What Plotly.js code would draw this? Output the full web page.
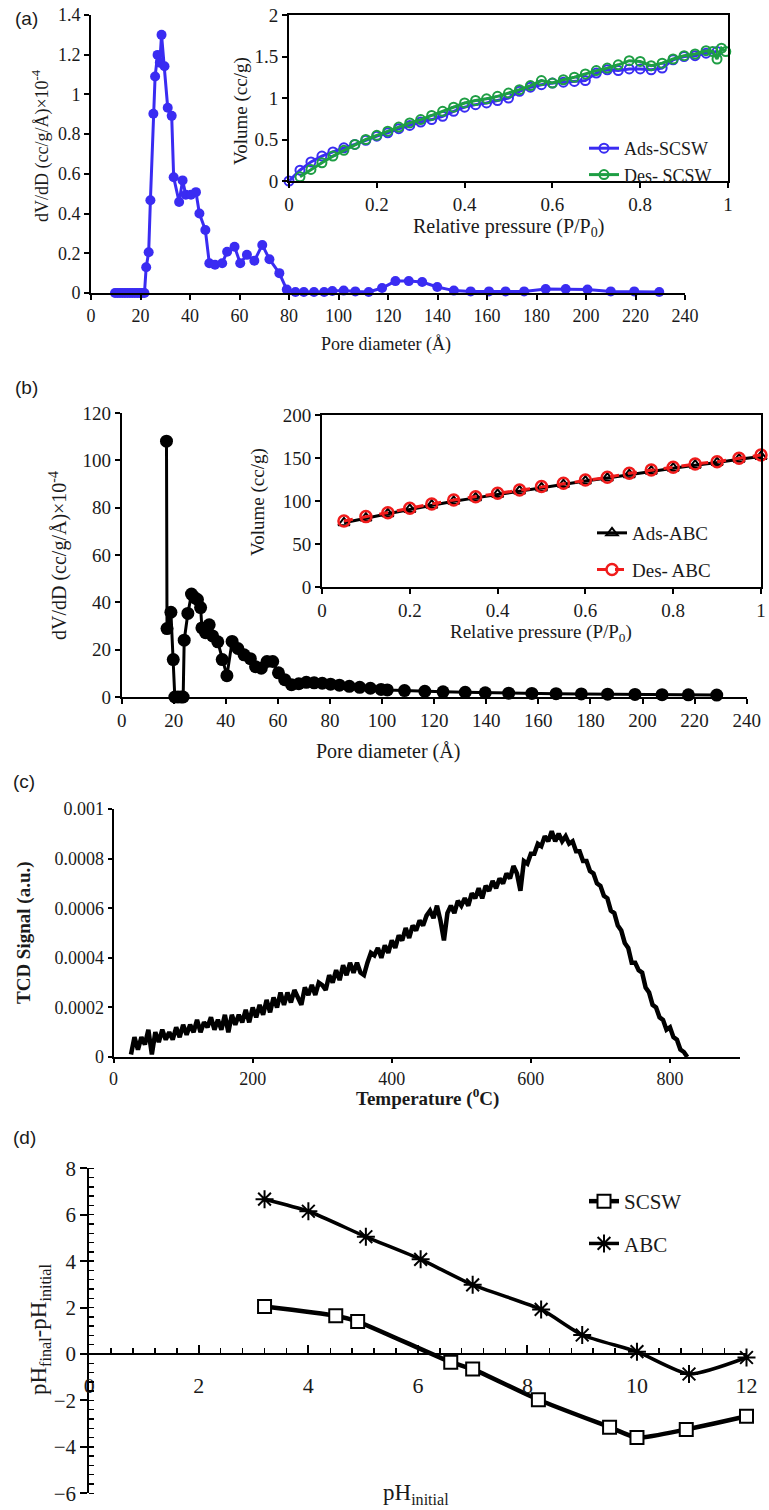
<!DOCTYPE html>
<html><head><meta charset="utf-8">
<script src="https://cdn.plot.ly/plotly-3.0.1.min.js"></script>
<style>html,body{margin:0;padding:0;background:#fff;}#chart{width:769px;height:1510px;}</style>
</head><body><div id="chart"></div>
<script>
// ---------- (a) BJH pore size distribution, SCSW ----------
const aPoreDiameter = [9.7,10.7,11.7,12.7,13.7,14.7,15.7,16.7,17.7,18.7,19.7,20.7,21.6,
  22.3,23.3,24.0,25.2,25.9,26.9,27.8,28.5,29.7,31.0,32.6,33.4,35.6,37.0,38.3,40.4,42.4,43.8,46.2,47.8,50.1,53.0,55.0,58.0,60.3,63.0,66.0,69.2,72.1,76.1,79.1,
  82.6,86.0,90.1,94.2,97.5,102.1,106.8,112.2,117.6,123.0,128.4,133.8,139.9,146.6,153.4,160.8,167.5,175.0,183.7,191.8,200.6,210.0,219.5,229.6];
const aDvdD = [0,0,0,0,0,0,0,0,0,0,0,0,0,
  0.13,0.205,0.467,0.903,1.09,1.199,1.16,1.30,1.142,0.933,0.892,0.583,0.458,0.567,0.495,0.495,0.508,0.40,0.317,0.15,0.142,0.15,0.208,0.233,0.15,0.192,0.162,0.242,0.17,0.10,0.017,
  0.005,0.005,0.005,0.005,0.01,0.012,0.008,0.005,0.025,0.06,0.06,0.055,0.03,0.012,0.008,0.008,0.008,0.008,0.02,0.02,0.018,0.008,0.008,0.005];
// inset (a) isotherm
const aAdsP = [0,0.025,0.05,0.075,0.1,0.125,0.15,0.175,0.2,0.225,0.25,0.275,0.3,0.325,0.35,0.375,0.4,0.425,0.45,0.475,0.5,0.525,0.55,0.575,0.6,0.625,0.65,0.675,0.7,0.725,0.75,0.775,0.8,0.825,0.85,0.875,0.9,0.925,0.95,0.975];
const aAdsV = [0,0.13,0.23,0.30,0.35,0.40,0.44,0.49,0.54,0.58,0.63,0.67,0.71,0.74,0.78,0.84,0.89,0.92,0.94,0.97,1.00,1.08,1.13,1.16,1.18,1.19,1.20,1.21,1.30,1.34,1.33,1.35,1.35,1.34,1.36,1.46,1.50,1.51,1.54,1.56];
const aDesP = [0.025,0.05,0.075,0.1,0.125,0.15,0.175,0.2,0.225,0.25,0.275,0.3,0.325,0.35,0.375,0.4,0.425,0.45,0.475,0.5,0.525,0.55,0.575,0.6,0.625,0.65,0.675,0.7,0.725,0.75,0.775,0.8,0.825,0.85,0.875,0.9,0.925,0.95,0.965,0.975,0.985,0.995];
const aDesV = [0.05,0.14,0.22,0.30,0.37,0.44,0.50,0.55,0.60,0.65,0.70,0.74,0.79,0.84,0.89,0.94,0.97,0.99,1.02,1.06,1.10,1.15,1.21,1.18,1.22,1.25,1.29,1.33,1.36,1.40,1.45,1.44,1.39,1.42,1.47,1.51,1.53,1.57,1.56,1.47,1.60,1.56];

// ---------- (b) BJH pore size distribution, ABC ----------
const bPoreDiameter = [17.2,17.4,18.9,19.8,20.4,21.6,22.8,23.6,24.0,25.4,26.8,28.0,29.1,30.3,30.8,32.2,33.6,34.9,36.9,38.6,40.4,42.4,44.6,47.0,49.4,51.4,53.6,55.8,58.0,60.2,62.6,65.2,68.0,70.9,73.9,77.0,80.2,83.6,87.4,91.4,95.5,99.6,102.0,108.6,116.4,123.4,131.9,139.6,148.6,157.5,166.8,176.5,186.6,197.1,207.5,217.6,228.5];
const bDvdD = [108.1,28.9,35.8,15.8,0,0,0,0,24.0,35.3,43.5,42.0,41.2,37.8,29.2,27.2,30.5,25.8,23.3,15.8,9.0,23.5,20.5,17.8,16.2,12.8,12.2,15.0,15.0,10.2,7.3,5.2,5.6,6.2,6.0,5.8,5.4,5.0,4.5,4.1,3.7,3.2,3.0,2.7,2.4,2.2,2.0,1.8,1.6,1.5,1.4,1.3,1.2,1.1,1.0,0.9,0.8];
// inset (b) isotherm
const bRelP = [0.05,0.1,0.15,0.2,0.25,0.3,0.35,0.4,0.45,0.5,0.55,0.6,0.65,0.7,0.75,0.8,0.85,0.9,0.95,1.0];
const bAdsV = [75,80.5,85.5,90.5,95.5,100,104,108,112,115.5,119.5,123.5,127,131,135,138.5,142,145,149,152];
const bDesV = [77.1,82.2,86.8,91.9,96.9,101.6,105.4,109.3,113.2,117.1,121.0,124.8,127.9,132.6,136.4,139.5,143.4,146.1,150.0,153.9];

// ---------- (c) TPD ----------
const tcdTemperature = [25,30,35,40,45,50,55,60,65,70,75,80,85,90,95,100,105,110,115,120,125,130,135,140,145,150,155,160,165,170,175,180,185,190,195,200,205,210,215,220,225,230,235,240,245,250,255,260,265,270,275,280,285,290,295,300,305,310,315,320,325,330,335,340,345,350,355,360,365,370,375,380,385,390,395,400,405,410,415,420,425,430,435,440,445,450,455,460,465,470,475,480,485,490,495,500,505,510,515,520,525,530,535,540,545,550,555,560,565,570,575,580,585,590,595,600,605,610,615,620,625,630,635,640,645,650,655,660,665,670,675,680,685,690,695,700,705,710,715,720,725,730,735,740,745,750,755,760,765,770,775,780,785,790,795,800,805,810,815,820,825];
const tcdSignal = [0.00001,0.00008,0.00003,0.00008,0.00005,0.00011,0.00001,0.00010,0.00006,0.00011,0.00007,0.00010,0.00007,0.00012,0.00008,0.00013,0.00009,0.00013,0.00010,0.00015,0.00010,0.00014,0.00012,0.00016,0.00011,0.00015,0.00011,0.00017,0.00010,0.00017,0.00013,0.00017,0.00014,0.00019,0.00014,0.00020,0.00016,0.00021,0.00017,0.00023,0.00018,0.00024,0.00020,0.00026,0.00021,0.00026,0.00022,0.00027,0.00024,0.00021,0.00028,0.00025,0.00029,0.00025,0.00030,0.00029,0.00027,0.00033,0.00030,0.00035,0.00031,0.00037,0.00033,0.00038,0.00034,0.00038,0.00034,0.00033,0.00038,0.00042,0.00041,0.00044,0.00040,0.00045,0.00042,0.00047,0.00044,0.00049,0.00047,0.00052,0.00048,0.00053,0.00051,0.00055,0.00053,0.00057,0.00059,0.00056,0.00061,0.00055,0.00047,0.00058,0.00061,0.00058,0.00063,0.00061,0.00064,0.00061,0.00066,0.00064,0.00068,0.00064,0.00069,0.00067,0.00071,0.00068,0.00072,0.00070,0.00074,0.00072,0.00077,0.00074,0.00067,0.00079,0.00078,0.00082,0.00082,0.00086,0.00085,0.00089,0.00087,0.00091,0.00087,0.00090,0.00087,0.00089,0.00086,0.00087,0.00083,0.00083,0.00079,0.00079,0.00075,0.00074,0.00070,0.00069,0.00065,0.00064,0.00059,0.00058,0.00053,0.00051,0.00046,0.00044,0.00038,0.00038,0.00035,0.00034,0.00028,0.00026,0.00021,0.00020,0.00016,0.00015,0.00011,0.00012,0.00008,0.00007,0.00003,0.00002,0];

// ---------- (d) point of zero charge ----------
const dScswPhInitial = [3.2,4.5,4.9,6.6,7.0,8.2,9.5,10.0,10.9,12.0];
const dScswDelta = [2.05,1.65,1.4,-0.35,-0.65,-1.97,-3.15,-3.6,-3.25,-2.68];
const dAbcPhInitial = [3.2,4.0,5.05,6.05,7.0,8.25,9.0,10.0,10.95,12.0];
const dAbcDelta = [6.67,6.15,5.05,4.08,2.98,1.92,0.82,0.1,-0.86,-0.15];

// ---------- styling ----------
const SERIF = '"Liberation Serif", "Times New Roman", serif';
const SANS = '"Liberation Sans", Arial, sans-serif';
const W = 769, H = 1510;
const px = v => v / W, py = v => 1 - v / H;
const BLUE = '#3a2cf2', GREEN = '#1e9e44', RED = '#f01c1c';
const TXT = '#1a1a1a';

function axis(o) {
  return Object.assign({
    showline: true, linecolor: '#000', linewidth: 2, ticks: 'outside', ticklen: 5, tickwidth: 2,
    tickcolor: '#000', showgrid: false, zeroline: false, fixedrange: true,
    tickfont: {family: SERIF, size: 18, color: TXT}
  }, o);
}

const traces = [
  {x: aPoreDiameter, y: aDvdD, xaxis: 'x', yaxis: 'y', mode: 'lines+markers', showlegend: false, cliponaxis: false,
   line: {color: BLUE, width: 3}, marker: {color: BLUE, size: 10}},
  {x: aAdsP, y: aAdsV, xaxis: 'x2', yaxis: 'y2', mode: 'lines+markers', name: 'Ads-SCSW', legend: 'legend', legendgroup: 'a1', cliponaxis: false,
   line: {color: BLUE, width: 3}, marker: {symbol: 'circle-open', color: BLUE, size: 9, line: {width: 2}}},
  {x: aDesP, y: aDesV, xaxis: 'x2', yaxis: 'y2', mode: 'lines+markers', name: 'Des- SCSW', legend: 'legend', legendgroup: 'a2', cliponaxis: false,
   line: {color: GREEN, width: 3}, marker: {symbol: 'circle-open', color: GREEN, size: 9, line: {width: 2}}},
  {x: bPoreDiameter, y: bDvdD, xaxis: 'x3', yaxis: 'y3', mode: 'lines+markers', showlegend: false, cliponaxis: false,
   line: {color: '#000', width: 3}, marker: {color: '#000', size: 13}},
  {x: bRelP, y: bAdsV, xaxis: 'x4', yaxis: 'y4', mode: 'lines+markers', name: 'Ads-ABC', legend: 'legend2', legendgroup: 'b1', cliponaxis: false,
   line: {color: '#000', width: 3}, marker: {symbol: 'triangle-up-open', color: '#000', size: 10, line: {width: 2}}},
  {x: bRelP, y: bDesV, xaxis: 'x4', yaxis: 'y4', mode: 'lines+markers', name: 'Des- ABC', legend: 'legend2', legendgroup: 'b2', cliponaxis: false,
   line: {color: RED, width: 3, dash: 'dash'}, marker: {symbol: 'circle-open', color: RED, size: 11, line: {width: 2.5}}},
  {x: tcdTemperature, y: tcdSignal, xaxis: 'x5', yaxis: 'y5', mode: 'lines', showlegend: false, cliponaxis: false,
   line: {color: '#000', width: 4.5}},
  {x: dScswPhInitial, y: dScswDelta, xaxis: 'x6', yaxis: 'y6', mode: 'lines+markers', name: 'SCSW', legend: 'legend3', legendgroup: 'd1', cliponaxis: false,
   line: {color: '#000', width: 4.5, shape: 'spline', smoothing: 0.6}, marker: {symbol: 'square', color: '#fff', size: 13, line: {color: '#000', width: 2}}},
  {x: dAbcPhInitial, y: dAbcDelta, xaxis: 'x6', yaxis: 'y6', mode: 'lines+markers', name: 'ABC', legend: 'legend3', legendgroup: 'd2', cliponaxis: false,
   line: {color: '#000', width: 3.5, shape: 'spline', smoothing: 0.6}, marker: {symbol: 'asterisk-open', color: '#000', size: 15, line: {color: '#000', width: 2}}}
];

function ann(text, x, y, size, extra) {
  return Object.assign({text: text, xref: 'paper', yref: 'paper', x: px(x), y: py(y), showarrow: false,
    xanchor: 'center', yanchor: 'middle', font: {family: SERIF, size: size, color: TXT}}, extra || {});
}

const layout = {
  width: W, height: H, margin: {l: 0, r: 0, t: 0, b: 0}, paper_bgcolor: '#fff', plot_bgcolor: 'rgba(0,0,0,0)',
  font: {family: SERIF, color: TXT},
  xaxis: axis({domain: [px(91), px(685)], anchor: 'y', range: [0, 240], dtick: 20}),
  yaxis: axis({domain: [py(293), py(15)], anchor: 'x', range: [0, 1.4], dtick: 0.2}),
  xaxis2: axis({domain: [px(289), px(728)], anchor: 'y2', range: [0, 1], dtick: 0.2, mirror: true, tickfont: {family: SERIF, size: 19, color: TXT}}),
  yaxis2: axis({domain: [py(181), py(15)], anchor: 'x2', range: [0, 2], dtick: 0.5, mirror: true, tickfont: {family: SERIF, size: 19, color: TXT}}),
  xaxis3: axis({domain: [px(121.7), px(746.7)], anchor: 'y3', range: [0, 240], dtick: 20, tickfont: {family: SERIF, size: 19, color: TXT}}),
  yaxis3: axis({domain: [py(697), py(413)], anchor: 'x3', range: [0, 120], dtick: 20, tickfont: {family: SERIF, size: 19, color: TXT}}),
  xaxis4: axis({domain: [px(322), px(761)], anchor: 'y4', range: [0, 1], dtick: 0.2, mirror: true, tickfont: {family: SERIF, size: 19, color: TXT}}),
  yaxis4: axis({domain: [py(587.3), py(415.3)], anchor: 'x4', range: [0, 200], dtick: 50, mirror: true, tickfont: {family: SERIF, size: 19, color: TXT}}),
  xaxis5: axis({domain: [px(113.6), px(739.5)], anchor: 'y5', range: [0, 900], dtick: 200, ticklen: 4}),
  yaxis5: axis({domain: [py(1057), py(809)], anchor: 'x5', range: [0, 0.001], dtick: 0.0002, tickformat: '.4~f', ticklen: 4}),
  xaxis6: axis({domain: [px(89.3), px(746.5)], anchor: 'free', position: py(1354), range: [0, 12], dtick: 2,
    ticks: 'inside', ticklen: 8, ticklabelstandoff: 12, tickfont: {family: SERIF, size: 22, color: TXT},
    minor: {dtick: 0.4, ticks: 'inside', ticklen: 5, tickwidth: 1.5, tickcolor: '#000'}}),
  yaxis6: axis({domain: [py(1493.3), py(1168.3)], anchor: 'x6', range: [-6, 8], dtick: 2, ticklen: 7,
    tickfont: {family: SERIF, size: 21, color: TXT},
    minor: {dtick: 0.4, ticks: 'inside', ticklen: 5, tickwidth: 1.5, tickcolor: '#000'}}),
  legend: {x: px(584), y: py(130), xanchor: 'left', yanchor: 'top', bgcolor: 'rgba(0,0,0,0)', traceorder: 'grouped', tracegroupgap: 0,
    font: {family: SERIF, size: 18, color: TXT}},
  legend2: {x: px(592), y: py(514), xanchor: 'left', yanchor: 'top', bgcolor: 'rgba(0,0,0,0)', traceorder: 'grouped', tracegroupgap: 9,
    font: {family: SERIF, size: 19, color: TXT}},
  legend3: {x: px(584), y: py(1181), xanchor: 'left', yanchor: 'top', bgcolor: 'rgba(0,0,0,0)', traceorder: 'grouped', tracegroupgap: 12,
    font: {family: SERIF, size: 21, color: TXT}},
  annotations: [
    ann('(a)', 26, 18, 19, {font: {family: SANS, size: 19, color: TXT}}),
    ann('(b)', 26, 387, 19, {font: {family: SANS, size: 19, color: TXT}}),
    ann('(c)', 24, 781, 19, {font: {family: SANS, size: 19, color: TXT}}),
    ann('(d)', 24, 1137, 19, {font: {family: SANS, size: 19, color: TXT}}),
    ann('Pore diameter (Å)', 386, 345, 18),
    ann('dV/dD (cc/g/Å)×10<sup>-4</sup>', 41, 146, 18, {textangle: -90}),
    ann('Relative pressure (P/P<sub>0</sub>)', 508, 227, 20),
    ann('Volume (cc/g)', 241, 111, 19, {textangle: -90}),
    ann('Pore diameter (Å)', 388, 752, 20),
    ann('dV/dD (cc/g/Å)×10<sup>-4</sup>', 58, 556, 20, {textangle: -90}),
    ann('Relative pressure (P/P<sub>0</sub>)', 541, 633, 19),
    ann('Volume (cc/g)', 258, 502, 19, {textangle: -90}),
    ann('<b>TCD Signal (a.u.)</b>', 24, 933, 19, {textangle: -90}),
    ann('<b>Temperature (<sup>0</sup>C)</b>', 427, 1097, 19),
    ann('pH<sub>final</sub>-pH<sub>initial</sub>', 40, 1330, 23, {textangle: -90}),
    ann('pH<sub>initial</sub>', 416, 1494, 23)
  ]
};

Plotly.newPlot('chart', traces, layout, {staticPlot: true, displayModeBar: false});
</script>
</body></html>
